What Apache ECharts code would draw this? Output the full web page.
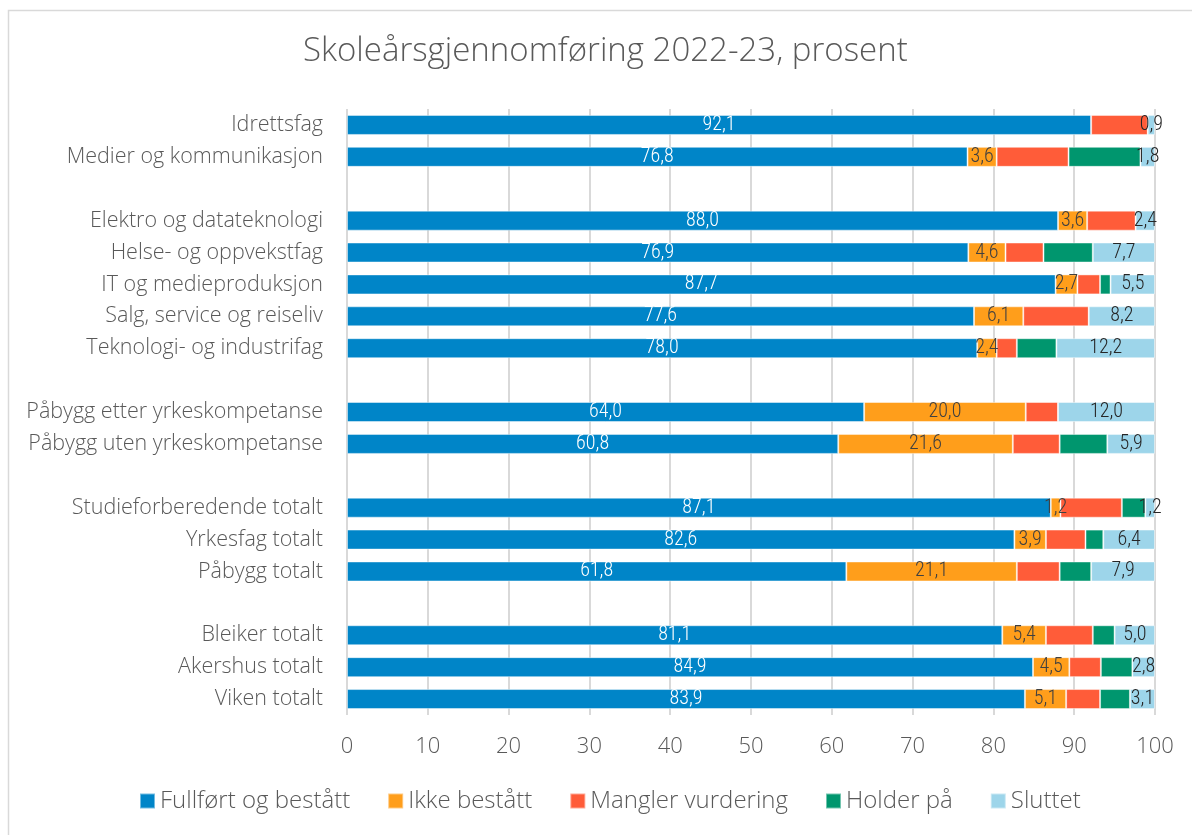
<!DOCTYPE html>
<html>
<head>
<meta charset="utf-8">
<title>Skoleårsgjennomføring 2022-23</title>
<script src="https://cdn.jsdelivr.net/npm/echarts@6/dist/echarts.min.js"></script>
<style>
  html, body { margin: 0; padding: 0; background: #fff; overflow: hidden; }
  #main { width: 1192px; height: 835px; }
</style>
</head>
<body>
<div id="main"></div>
<script>
// kategorier (tomme rader er mellomrom mellom gruppene)
var categories = [
  'Idrettsfag', 'Medier og kommunikasjon', ' ',
  'Elektro og datateknologi', 'Helse- og oppvekstfag', 'IT og medieproduksjon',
  'Salg, service og reiseliv', 'Teknologi- og industrifag', '  ',
  'Påbygg etter yrkeskompetanse', 'Påbygg uten yrkeskompetanse', '   ',
  'Studieforberedende totalt', 'Yrkesfag totalt', 'Påbygg totalt', '    ',
  'Bleiker totalt', 'Akershus totalt', 'Viken totalt'
];

var seriesNames = ['Fullført og bestått', 'Ikke bestått', 'Mangler vurdering', 'Holder på', 'Sluttet'];

var fullfort = [92.1, 76.8, null, 88.0, 76.9, 87.7, 77.6, 78.0, null, 64.0, 60.8, null, 87.1, 82.6, 61.8, null, 81.1, 84.9, 83.9];
var ikkeBestatt = [0, 3.6, null, 3.6, 4.6, 2.7, 6.1, 2.4, null, 20.0, 21.6, null, 1.2, 3.9, 21.1, null, 5.4, 4.5, 5.1];
var manglerVurdering = [7.0, 8.9, null, 6.0, 4.7, 2.8, 8.1, 2.5, null, 4.0, 5.8, null, 7.6, 4.9, 5.3, null, 5.8, 3.9, 4.2];
var holderPa = [0, 8.9, null, 0, 6.1, 1.3, 0, 4.9, null, 0, 5.9, null, 2.9, 2.2, 3.9, null, 2.7, 3.9, 3.7];
var sluttet = [0.9, 1.8, null, 2.4, 7.7, 5.5, 8.2, 12.2, null, 12.0, 5.9, null, 1.2, 6.4, 7.9, null, 5.0, 2.8, 3.1];

var xTicks = [0, 10, 20, 30, 40, 50, 60, 70, 80, 90, 100];

var colors = ['#0085C8', '#FF9E1B', '#FF5C39', '#00966E', '#9DD5EA'];

var textFont = '"Open Sans", "Noto Sans", sans-serif';
var labelFont = '"Roboto Condensed", "Liberation Sans Narrow", Roboto, sans-serif';

// norsk tallformat med komma
function fmt(p) {
  if (p.value === null || p.value === undefined || p.value === 0) return '';
  return p.value.toFixed(1).replace('.', ',');
}

function makeSeries(name, data, idx, labelColor) {
  return {
    name: name,
    type: 'bar',
    stack: 'total',
    barWidth: 20,
    data: data,
    itemStyle: {
      color: colors[idx],
      borderColor: 'rgba(255,255,255,0.45)',
      borderWidth: 1
    },
    label: {
      show: labelColor !== null,
      position: 'inside',
      formatter: fmt,
      color: labelColor || '#000',
      fontFamily: labelFont,
      fontWeight: 300,
      fontSize: 20
    }
  };
}

var chart = echarts.init(document.getElementById('main'));
chart.setOption({
  animation: false,
  color: colors,
  title: {
    text: 'Skoleårsgjennomføring 2022-23, prosent',
    left: 303,
    top: 35,
    padding: 0,
    textStyle: {
      fontFamily: textFont,
      fontWeight: 300,
      fontSize: 33,
      color: '#595959'
    }
  },
  // ramme rundt hele figuren
  graphic: [{
    type: 'rect',
    shape: { x: 8.5, y: 10.5, width: 1200, height: 840 },
    style: { fill: 'none', stroke: '#d9d9d9', lineWidth: 1.5 },
    silent: true
  }],
  legend: {
    data: seriesNames,
    left: 139,
    top: 789,
    padding: 0,
    itemWidth: 15,
    itemHeight: 15,
    itemGap: 37,
    icon: 'rect',
    textStyle: {
      fontFamily: textFont,
      fontWeight: 300,
      fontSize: 24,
      color: '#595959'
    }
  },
  grid: {
    left: 347,
    right: 37,
    top: 109,
    bottom: 120,
    containLabel: false
  },
  xAxis: {
    type: 'value',
    min: 0,
    max: 100,
    interval: 10,
    axisLine: { show: false },
    axisTick: { show: false },
    splitLine: { lineStyle: { color: '#d9d9d9', width: 2 } },
    axisLabel: {
      margin: 21,
      fontFamily: textFont,
      fontWeight: 300,
      fontSize: 22,
      color: '#595959',
      formatter: function (v) { return xTicks.indexOf(v) >= 0 ? String(v) : ''; }
    }
  },
  yAxis: {
    type: 'category',
    inverse: true,
    data: categories,
    axisLine: { show: false },
    axisTick: { show: false },
    splitLine: { show: false },
    axisLabel: {
      margin: 24,
      fontFamily: textFont,
      fontWeight: 300,
      fontSize: 21.5,
      color: '#595959'
    }
  },
  series: [
    makeSeries(seriesNames[0], fullfort, 0, '#ffffff'),
    makeSeries(seriesNames[1], ikkeBestatt, 1, '#404040'),
    makeSeries(seriesNames[2], manglerVurdering, 2, null),
    makeSeries(seriesNames[3], holderPa, 3, null),
    makeSeries(seriesNames[4], sluttet, 4, '#262626')
  ]
});
</script>
</body>
</html>
